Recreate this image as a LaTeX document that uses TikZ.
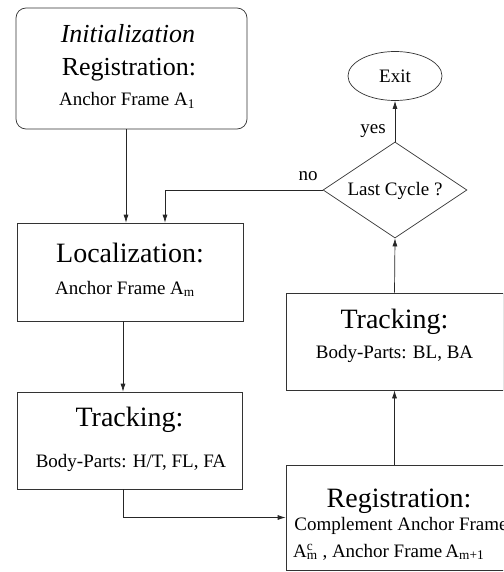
\documentclass[tikz,border=0pt]{standalone}
\usepackage{fontspec}
\setmainfont{Liberation Serif}
\usetikzlibrary{shapes.geometric,arrows.meta,calc}
\tikzset{
  boxline/.style={draw=black!80, line width=0.7pt},
  sqbox/.style={boxline, rectangle, inner sep=0pt},
  head/.style={font=\fontsize{28}{30}\selectfont, anchor=base, inner sep=0pt},
  headsm/.style={font=\fontsize{26}{28}\selectfont, anchor=base, inner sep=0pt},
  body/.style={font=\fontsize{19}{21}\selectfont, anchor=base, inner sep=0pt},
  arr/.style={draw=black!85, line width=0.7pt, -{Latex[length=8pt,width=5pt]}},
}
\begin{document}
\begin{tikzpicture}[x=1pt,y=-1pt]
\useasboundingbox (0,0) rectangle (503,572);
\clip (0,0) rectangle (503,572);
\fill[white] (0,0) rectangle (503,572);
% boxes
\node[sqbox, rounded corners=10pt, minimum width=231pt, minimum height=121pt] (box1) at (131.5,68.5) {};
\node[sqbox, minimum width=226pt, minimum height=98pt] (loc) at (130,272) {};
\node[sqbox, minimum width=225pt, minimum height=97pt] (trk1) at (129.5,440.5) {};
\node[sqbox, minimum width=229pt, minimum height=105pt] (reg) at (400.5,517.5) {};
\node[sqbox, minimum width=217pt, minimum height=97pt] (trk2) at (394.5,341.5) {};
\node[boxline, diamond, inner sep=0pt, minimum width=144pt, minimum height=96pt] (dia) at (395,190) {};
\node[boxline, ellipse, inner sep=0pt, minimum width=94pt, minimum height=49pt] (exit) at (395,76) {};
% texts
\node[headsm, font=\fontsize{26}{28}\selectfont\itshape] (t1a) at (128,43) {Initialization};
\node[headsm] (t1b) at (129,76) {Registration:};
\node[body] (t1c) at (127,106) {Anchor Frame A\textsubscript{1}};
\node[head] (t2a) at (130,262) {Localization:};
\node[body] (t2b) at (125,294) {Anchor Frame A\textsubscript{m}};
\node[head] (t3a) at (129.5,426) {Tracking:};
\node[body] (t3b) at (131,467) {Body-Parts: H/T, FL, FA};
\node[head] (t4a) at (399,507) {Registration:};
\node[body] (t4b) at (401,530) {Complement Anchor Frame};
\node[body, anchor=base west] (t4c) at (293,557) {A\rlap{\textsuperscript{c}}\textsubscript{m} , Anchor Frame\,A\textsubscript{m+1}};
\node[head] (t5a) at (394.5,328) {Tracking:};
\node[body] (t5b) at (394.5,358) {Body-Parts: BL, BA};
\node[body] (t6) at (395,195) {Last Cycle ?};
\node[body] (t7) at (395,83) {Exit};
\node[body] (yes) at (373,134) {yes};
\node[body] (no) at (308,180) {no};
% connectors
\draw[arr] ([xshift=-5.5pt]box1.south) -- ([xshift=-4pt]loc.north);
\draw[arr] ([xshift=-7pt]loc.south) -- ([xshift=-6.5pt]trk1.north);
\draw[arr] ([xshift=-6.5pt]trk1.south) |- (reg.west);
\draw[arr] (trk2.south |- reg.north) -- (trk2.south);
\draw[arr] (trk2.north) -- (dia.south);
\draw[arr] (dia.north) -- (exit.south);
\draw[arr] (dia.west) -| ([xshift=35pt]loc.north);
\end{tikzpicture}
\end{document}
